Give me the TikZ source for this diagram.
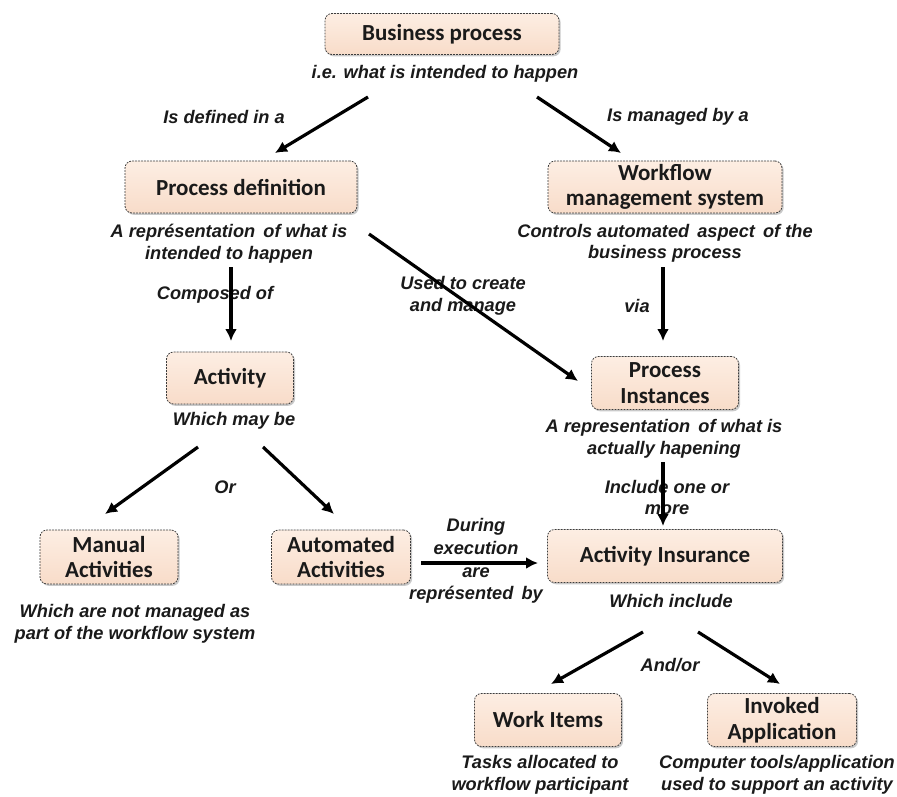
\documentclass[tikz,border=0pt]{standalone}
\usepackage{fontspec}
\setmainfont{Liberation Sans}
\newfontfamily\boxfont{Carlito}
\usetikzlibrary{arrows.meta,shadows}
\definecolor{boxtop}{HTML}{FDEEE3}
\definecolor{boxbot}{HTML}{F8DCC9}
\definecolor{boxline}{HTML}{3C3C3C}
\definecolor{inktext}{HTML}{1A1A1A}
\tikzset{
  conceptbox/.style={draw=boxline, line width=0.8pt, dash pattern=on 1.8pt off 1.2pt,
    rounded corners=7pt, top color=boxtop, bottom color=boxbot,
    drop shadow={shadow xshift=1.6pt, shadow yshift=-1.8pt, opacity=0.35, fill=black!60},
    align=center, inner sep=0pt, text=inktext,
    font=\boxfont\bfseries\fontsize{23}{25.5}\selectfont},
  note/.style={align=center, inner sep=0pt, text=inktext,
    font=\bfseries\itshape\fontsize{18.2}{21.5}\selectfont},
  flow/.style={line width=3.2pt, black, -{Latex[length=12pt,width=12pt]}}
}
\begin{document}
\begin{tikzpicture}[x=1pt,y=-1pt]
\useasboundingbox (0,0) rectangle (897,796);
\fill[white] (0,0) rectangle (897,796);

% concept boxes
\node[conceptbox, minimum width=234, minimum height=41] (bp) at (442,34) {Business process};
\node[conceptbox, minimum width=232, minimum height=52] (pd) at (241,187) {Process definition};
\node[conceptbox, minimum width=234, minimum height=52] (wf) at (665,187) {Workflow\\management system};
\node[conceptbox, minimum width=127, minimum height=52] (act) at (230,378) {Activity};
\node[conceptbox, minimum width=147, minimum height=53] (pi) at (665,383) {Process\\Instances};
\node[conceptbox, minimum width=138, minimum height=54] (ma) at (109,557) {Manual\\Activities};
\node[conceptbox, minimum width=139, minimum height=54] (aa) at (341,557) {Automated\\Activities};
\node[conceptbox, minimum width=235, minimum height=53] (ai) at (665,556) {Activity Insurance};
\node[conceptbox, minimum width=147, minimum height=53] (wi) at (548,720) {Work Items};
\node[conceptbox, minimum width=149, minimum height=53] (ia) at (782,720) {Invoked\\Application};

% descriptions under the boxes
\node[note] (bpd) at (445,74) {i.e. what is intended to happen};
\node[note] (pdd) at (229,243.5) {A représentation\, of what is\\intended to happen};
\node[note] (wfd) at (665,243.5) {Controls automated\, aspect\, of the\\business process};
\node[note] (actd) at (234,421) {Which may be};
\node[note] (pid) at (664,439) {A representation\, of what is\\actually hapening};
\node[note] (mad) at (135,624) {Which are not managed as\\part of the workflow system};
\node[note] (aid) at (671,601) {Which include};
\node[note] (wid) at (540,775) {Tasks allocated to\\workflow participant};
\node[note] (iad) at (777,775) {Computer tools/application\\used to support an activity};

% relation labels
\node[note] (l1) at (224,117) {Is defined in a};
\node[note] (l2) at (678,117) {Is managed by a};
\node[note] (l3) at (215,295) {Composed of};
\node[note] (l4) at (463,296) {Used to create\\and manage};
\node[note] (l5) at (637,306) {via};
\node[note] (l6) at (225,487) {Or};
\node[note] (l7) at (667,497.5) {Include one or\\more};
\node[note, font=\bfseries\itshape\fontsize{18.2}{22.6}\selectfont] (l8) at (476,561) {During\\execution\\are\\représented\, by};
\node[note] (l9) at (670,665) {And/or};

% arrow end points
\coordinate (a1s) at (368,97);  \coordinate (a1e) at (275,153);
\coordinate (a2s) at (537,97);  \coordinate (a2e) at (621,153);
\coordinate (a3s) at (369,234); \coordinate (a3e) at (578,381);
\coordinate (a4s) at (231,267); \coordinate (a4e) at (231,341);
\coordinate (a5s) at (663,267); \coordinate (a5e) at (663,341);
\coordinate (a6s) at (198,447); \coordinate (a6e) at (105,514);
\coordinate (a7s) at (263,447); \coordinate (a7e) at (334,514);
\coordinate (a8s) at (663,462); \coordinate (a8e) at (663,526);
\coordinate (a9s) at (421,563); \coordinate (a9e) at (538,563);
\coordinate (a10s) at (643,632); \coordinate (a10e) at (551,684);
\coordinate (a11s) at (698,632); \coordinate (a11e) at (780,684);

% connectors
\draw[flow] (a1s) -- (a1e);
\draw[flow] (a2s) -- (a2e);
\draw[flow] (a3s) -- (a3e);
\draw[flow] (a4s) -- (a4e);
\draw[flow] (a5s) -- (a5e);
\draw[flow] (a6s) -- (a6e);
\draw[flow] (a7s) -- (a7e);
\draw[flow] (a8s) -- (a8e);
\draw[flow] (a9s) -- (a9e);
\draw[flow] (a10s) -- (a10e);
\draw[flow] (a11s) -- (a11e);
\end{tikzpicture}
\end{document}
